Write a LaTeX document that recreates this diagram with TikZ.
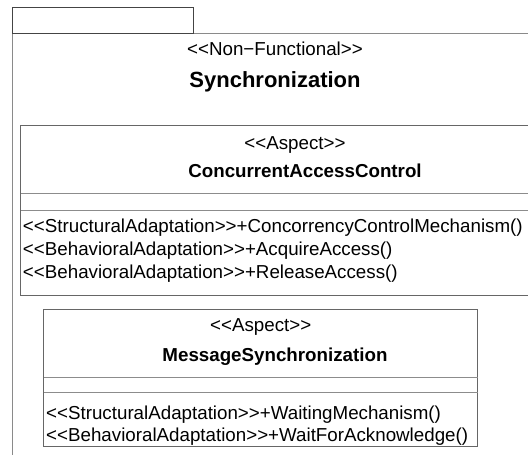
\documentclass[tikz,border=0pt]{standalone}
\usepackage{fontspec}
\setmainfont{Liberation Sans}
\newcommand{\LLq}{<\kern0pt<}
\newcommand{\GGq}{>\kern0pt>}
\definecolor{pkgline}{HTML}{8A8A8A}
\definecolor{tabline}{HTML}{444444}
\definecolor{boxline}{HTML}{666666}
\definecolor{compline}{HTML}{8C8C8C}
\begin{document}
\begin{tikzpicture}[x=1pt,y=-1pt,line width=1pt,
  plain/.style={font=\fontsize{18.75}{22}\selectfont,inner sep=0pt,text=black},
  boldt/.style={font=\fontsize{18.75}{22}\selectfont\bfseries,inner sep=0pt,text=black},
  ptitle/.style={font=\fontsize{22}{26}\selectfont\bfseries,inner sep=0pt,text=black},
  pkg/.style={draw=pkgline},
  tabbox/.style={draw=tabline},
  classbox/.style={draw=boxline},
  comp/.style={draw=compline}]
\useasboundingbox (0,0) rectangle (528,455);
\clip (0,0) rectangle (528,455);
% package body and tab
\draw[pkg] (12,33) rectangle (538,470);
\draw[tabbox] (12,7) rectangle (193,33);
\node[plain,anchor=base] (pst) at (275,55.5) {\LLq Non−Functional\GGq};
\node[ptitle,anchor=base] (pname) at (275,87.5) {Synchronization};
% class 1
\draw[classbox] (20.5,125.5) rectangle (570,295.5);
\draw[comp] (20.5,193.5) -- (528,193.5);
\draw[comp] (20.5,210) -- (528,210);
\node[plain,anchor=base] (ast) at (295,149) {\LLq Aspect\GGq};
\node[boldt,anchor=base] (aname) at (305,177) {ConcurrentAccessControl};
\node[plain,anchor=base west] (a1) at (22.5,232) {\LLq StructuralAdaptation\GGq+ConcorrencyControlMechanism()};
\node[plain,anchor=base west] (a2) at (22.5,255) {\LLq BehavioralAdaptation\GGq+AcquireAccess()};
\node[plain,anchor=base west] (a3) at (22.5,278) {\LLq BehavioralAdaptation\GGq+ReleaseAccess()};
% class 2
\draw[classbox] (43.7,309.5) rectangle (477.7,446.7);
\draw[comp] (43.7,377.5) -- (477.7,377.5);
\draw[comp] (43.7,392.5) -- (477.7,392.5);
\node[plain,anchor=base] (bst) at (260.7,331.5) {\LLq Aspect\GGq};
\node[boldt,anchor=base] (bname) at (275,361) {MessageSynchronization};
\node[plain,anchor=base west] (b1) at (45.7,419) {\LLq StructuralAdaptation\GGq+WaitingMechanism()};
\node[plain,anchor=base west] (b2) at (45.7,441) {\LLq BehavioralAdaptation\GGq+WaitForAcknowledge()};
\end{tikzpicture}
\end{document}
